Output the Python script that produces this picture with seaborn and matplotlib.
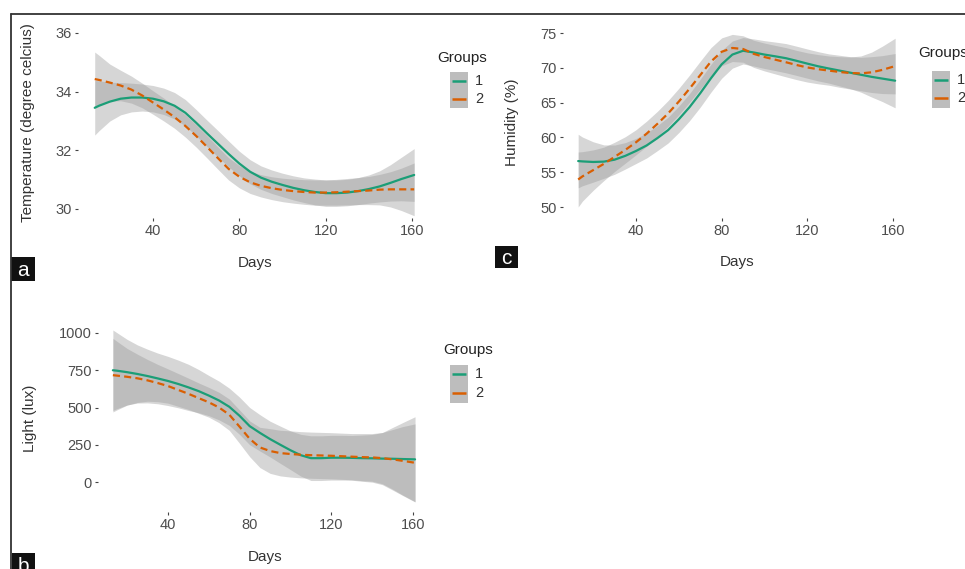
import numpy as np
import pandas as pd
import matplotlib
matplotlib.use("Agg")
import matplotlib.pyplot as plt
from matplotlib.patches import Rectangle
from matplotlib.lines import Line2D
import seaborn as sns

# ---------------- data ----------------
days = [13, 15, 20, 25, 30, 35, 40, 45, 50, 55, 60, 65, 70, 75, 80, 85,
        90, 95, 100, 105, 110, 115, 120, 125, 130, 135, 140, 145, 150, 155, 161]
groups = ["1", "2"]
x_ticks = [40, 80, 120, 160]

temp_g1 = [33.45, 33.52, 33.66, 33.76, 33.80, 33.80, 33.76, 33.67, 33.52, 33.28,
           32.94, 32.58, 32.23, 31.88, 31.55, 31.27, 31.07, 30.93, 30.82, 30.72,
           30.64, 30.58, 30.54, 30.54, 30.56, 30.61, 30.68, 30.77, 30.89, 31.02, 31.16]
temp_g2 = [34.43, 34.40, 34.31, 34.21, 34.07, 33.87, 33.63, 33.39, 33.13, 32.83,
           32.49, 32.12, 31.74, 31.37, 31.10, 30.91, 30.79, 30.71, 30.65, 30.61,
           30.58, 30.56, 30.56, 30.57, 30.59, 30.61, 30.63, 30.66, 30.67, 30.67, 30.67]
temp_hw1 = [0.93, 0.85, 0.66, 0.55, 0.49, 0.46, 0.45, 0.45, 0.45, 0.45,
            0.45, 0.45, 0.45, 0.44, 0.42, 0.41, 0.40, 0.40, 0.40, 0.41,
            0.42, 0.44, 0.45, 0.45, 0.45, 0.46, 0.48, 0.53, 0.62, 0.74, 0.90]
temp_hw2 = [0.92, 0.84, 0.63, 0.52, 0.46, 0.42, 0.40, 0.39, 0.38, 0.38,
            0.38, 0.38, 0.38, 0.38, 0.38, 0.38, 0.38, 0.39, 0.40, 0.41,
            0.42, 0.43, 0.43, 0.44, 0.45, 0.46, 0.48, 0.52, 0.60, 0.72, 0.90]
temp_ticks = [30, 32, 34, 36]

hum_g1 = [56.6, 56.55, 56.47, 56.52, 56.8, 57.35, 58.05, 58.85, 59.9, 61.05,
          62.6, 64.35, 66.35, 68.5, 70.5, 71.9, 72.45, 72.2, 71.9, 71.65,
          71.38, 71.0, 70.6, 70.22, 69.9, 69.6, 69.3, 69.0, 68.7, 68.45, 68.15]
hum_g2 = [53.95, 54.4, 55.3, 56.2, 57.2, 58.2, 59.3, 60.55, 61.95, 63.45,
          65.15, 67.0, 68.95, 70.9, 72.3, 72.85, 72.7, 72.0, 71.55, 71.17,
          70.8, 70.4, 70.05, 69.8, 69.6, 69.4, 69.25, 69.2, 69.35, 69.7, 70.25]
hum_hw1 = [3.85, 3.5, 2.9, 2.4, 2.1, 1.9, 1.8, 1.8, 1.8, 1.85,
           1.9, 1.95, 2.0, 2.0, 2.0, 1.95, 1.9, 1.95, 2.0, 2.05,
           2.1, 2.1, 2.1, 2.1, 2.1, 2.2, 2.3, 2.5, 2.9, 3.3, 3.9]
hum_hw2 = [3.95, 3.55, 2.9, 2.4, 2.1, 1.9, 1.8, 1.8, 1.8, 1.85,
           1.9, 1.95, 2.0, 2.0, 2.0, 1.95, 1.9, 1.95, 2.0, 2.05,
           2.1, 2.1, 2.1, 2.1, 2.1, 2.2, 2.3, 2.5, 2.9, 3.4, 4.0]
hum_ticks = [50, 55, 60, 65, 70, 75]

light_g1 = [750, 747, 737, 725, 711, 695, 678, 658, 635, 610,
            580, 547, 505, 445, 375, 330, 288, 250, 213, 180,
            160, 160, 163, 163, 162, 160, 159, 157, 156, 154, 152]
light_g2 = [717, 714, 706, 696, 682, 664, 644, 618, 592, 563,
            535, 500, 452, 372, 290, 232, 208, 194, 188, 183,
            180, 178, 176, 173, 170, 167, 165, 160, 152, 142, 129]
light_hw1 = [270, 255, 220, 195, 180, 170, 165, 160, 155, 145,
             135, 130, 125, 125, 125, 122, 120, 125, 130, 140,
             150, 150, 150, 150, 150, 155, 160, 175, 210, 245, 286]
light_hw2 = [247, 230, 190, 162, 140, 125, 115, 110, 105, 102,
             100, 102, 105, 112, 120, 135, 150, 153, 155, 155,
             155, 155, 155, 155, 155, 158, 160, 172, 200, 230, 261]
light_ticks = [0, 250, 500, 750, 1000]

PALETTE = {"1": "#1B9E77", "2": "#D95F02"}
DASHES = {"1": "", "2": (3.2, 1.9)}

# ---------------- figure ----------------
sns.set_theme(style="ticks")
plt.rcParams["font.family"] = ["Liberation Sans", "DejaVu Sans"]

W, H = 965, 569
fig = plt.figure(figsize=(W / 100, H / 100), dpi=100)
fig.patch.set_facecolor("white")


def px_axes(l, t, r, b):
    return fig.add_axes([l / W, 1 - b / H, (r - l) / W, (b - t) / H])


def lims(v0, p0, v1, p1, a, b):
    s = (v1 - v0) / (p1 - p0)
    return v0 + (a - p0) * s, v0 + (b - p0) * s


def fig_xy(px, py):
    return px / W, 1 - py / H


def draw_panel(box, xcal, ycal, g1, g2, hw1, hw2, yticks, ylabel, ylab_px, xlab_px):
    l, t, r, b = box
    ax = px_axes(l, t, r, b)
    ax.set_facecolor("white")
    for vals, hw in ((g1, hw1), (g2, hw2)):
        v = np.asarray(vals, float)
        h = np.asarray(hw, float)
        ax.fill_between(days, v - h, v + h, color="#999999", alpha=0.4, lw=0)
    df = pd.DataFrame({
        "Days": days * 2,
        "value": list(g1) + list(g2),
        "Groups": [groups[0]] * len(days) + [groups[1]] * len(days),
    })
    sns.lineplot(data=df, x="Days", y="value", hue="Groups", style="Groups",
                 palette=PALETTE, dashes=DASHES, lw=1.6, estimator=None,
                 legend=False, ax=ax)
    ax.set_xlim(*lims(xcal[0], xcal[1], xcal[2], xcal[3], l, r))
    ax.set_ylim(*lims(ycal[0], ycal[1], ycal[2], ycal[3], b, t))
    ax.set_xticks(x_ticks)
    ax.set_yticks(yticks)
    ax.tick_params(length=2.5, width=0.8, color="#444444", labelsize=10.5,
                   labelcolor="#4d4d4d", pad=2)
    for s in ax.spines.values():
        s.set_visible(False)
    ax.set_xlabel("Days", fontsize=11, color="#333333", va="center")
    ax.xaxis.set_label_coords((xlab_px[0] - l) / (r - l), (b - xlab_px[1]) / (b - t))
    ax.set_ylabel(ylabel, fontsize=11, color="#333333", va="center")
    ax.yaxis.set_label_coords((ylab_px[0] - l) / (r - l), (b - ylab_px[1]) / (b - t))
    return ax


def draw_legend(title_px, keybox, label_x, row_ys):
    tx, ty = fig_xy(*title_px)
    fig.text(tx, ty, "Groups", ha="left", va="center", fontsize=11, color="#222222")
    kl, kt, kr, kb = keybox
    fig.add_artist(Rectangle(fig_xy(kl, kb), (kr - kl) / W, (kb - kt) / H,
                             transform=fig.transFigure, facecolor="#bdbdbd",
                             edgecolor="none"))
    for g, yy in zip(groups, row_ys):
        x0, y0 = fig_xy(kl + 2, yy)
        x1, _ = fig_xy(kr - 2, yy)
        fig.add_artist(Line2D([x0, x1], [y0, y0], transform=fig.transFigure,
                              color=PALETTE[g], lw=1.8, solid_capstyle="butt"))
        lx, ly = fig_xy(label_x, yy)
        fig.text(lx, ly, g, ha="left", va="center", fontsize=10.5, color="#333333")


def panel_tag(letter, box):
    l, t, r, b = box
    fig.add_artist(Rectangle(fig_xy(l, b), (r - l) / W, (b - t) / H,
                             transform=fig.transFigure, facecolor="#111111",
                             edgecolor="none"))
    cx, cy = fig_xy((l + r) / 2, (t + b) / 2 + 1)
    fig.text(cx, cy, letter, ha="center", va="center", fontsize=15, color="white")


# Panel a: temperature
draw_panel((78, 28, 430, 218), (40, 153, 160, 412), (36, 33, 30, 209),
           temp_g1, temp_g2, temp_hw1, temp_hw2, temp_ticks,
           "Temperature (degree celcius)", (28, 123), (255, 263))
draw_legend((437, 58), (450, 72, 468, 108), 475, (81, 99))
panel_tag("a", (11, 257, 35, 281))

# Panel c: humidity
draw_panel((563, 28, 915, 218), (40, 636, 160, 893), (75, 33, 50, 207),
           hum_g1, hum_g2, hum_hw1, hum_hw2, hum_ticks,
           "Humidity (%)", (512, 122), (737, 262))
draw_legend((918, 53), (932, 71, 950, 108), 957, (80, 98))
panel_tag("c", (495, 246, 518, 268))

# Panel b: light
draw_panel((98, 322, 425, 512), (40, 168, 160, 413), (1000, 333, 0, 482),
           light_g1, light_g2, light_hw1, light_hw2, light_ticks,
           "Light (lux)", (30, 418), (265, 557))
draw_legend((443, 350), (450, 365, 468, 403), 475, (374, 393))
panel_tag("b", (12, 553, 35, 577))

# outer frame lines
fig.add_artist(Line2D([11 / W, 1.0], [1 - 14 / H] * 2, transform=fig.transFigure,
                      color="#333333", lw=1.3))
fig.add_artist(Line2D([11 / W] * 2, [1 - 14 / H, 0.0], transform=fig.transFigure,
                      color="#333333", lw=1.3))

fig.savefig("out.png", dpi=100, facecolor="white")
